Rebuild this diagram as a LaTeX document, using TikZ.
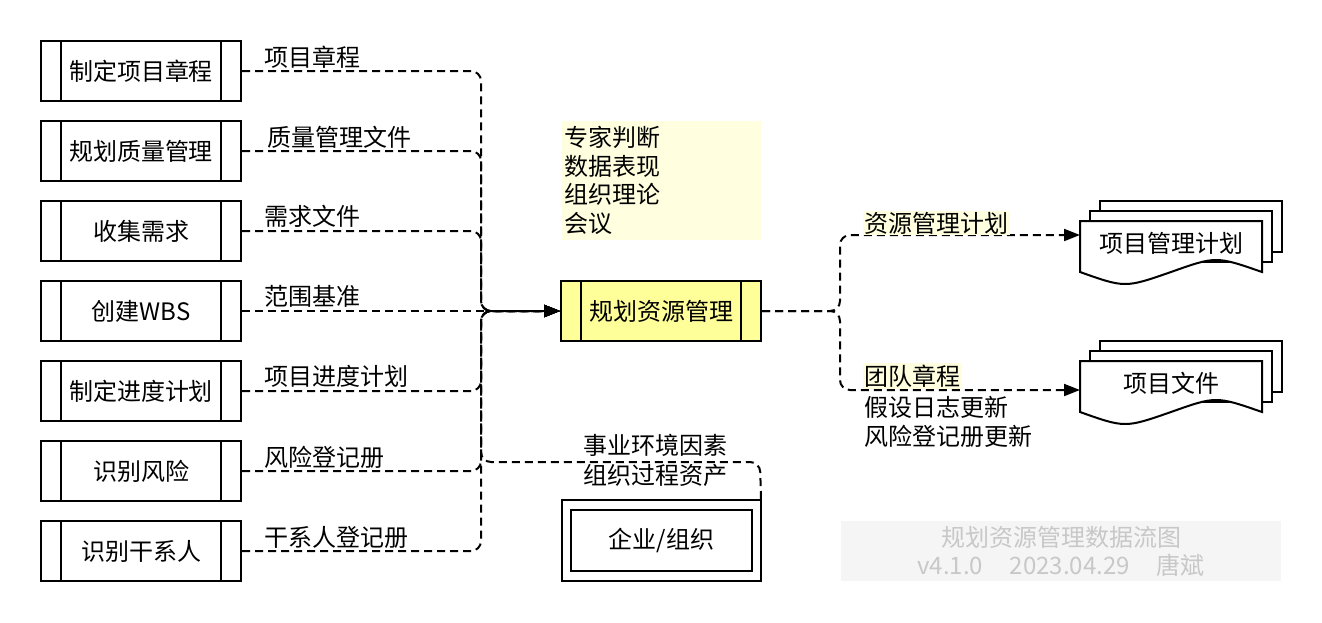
\documentclass[tikz,border=0pt]{standalone}
\usepackage{fontspec}
\setmainfont{Noto Sans CJK SC}
\usetikzlibrary{arrows.meta,positioning,calc}
\definecolor{rmproc}{RGB}{255,255,153}
\definecolor{rmnote}{RGB}{255,255,224}
\definecolor{rmmark}{RGB}{245,245,245}
\definecolor{rmmarktext}{RGB}{200,200,200}

\begin{document}
\begin{tikzpicture}[x=0.75pt,y=-0.75pt,>={Triangle[length=12pt,width=9pt]},
  font=\fontsize{18pt}{21.4pt}\selectfont,
  proc/.style={draw,line width=1.5pt,minimum width=150pt,minimum height=45pt,inner sep=0pt,
    path picture={
      \draw[line width=1.5pt] ([xshift=15pt]path picture bounding box.north west)--([xshift=15pt]path picture bounding box.south west);
      \draw[line width=1.5pt] ([xshift=-15pt]path picture bounding box.north east)--([xshift=-15pt]path picture bounding box.south east);}},
  flow/.style={line width=1.5pt,dash pattern=on 6pt off 3.75pt,rounded corners=7.5pt},
  lbl/.style={anchor=west,inner sep=1pt},
  page/.style={draw,line width=1.5pt,fill=white}]
\useasboundingbox (0,0) rectangle (1322,622);
% inputs
\node[proc] (charter) at (141,71) {制定项目章程};
\node[proc] (quality) at (141,151) {规划质量管理};
\node[proc] (reqs) at (141,231) {收集需求};
\node[proc] (wbs) at (141,311) {创建WBS};
\node[proc] (sched) at (141,391) {制定进度计划};
\node[proc] (risk) at (141,471) {识别风险};
\node[proc] (stake) at (141,551) {识别干系人};
\node[lbl] (charterlbl) at (263,57) {项目章程};
\node[lbl] (qualitylbl) at (266,137) {质量管理文件};
\node[lbl] (reqslbl) at (263,216) {需求文件};
\node[lbl] (wbslbl) at (263,296) {范围基准};
\node[lbl] (schedlbl) at (263,376) {项目进度计划};
\node[lbl] (risklbl) at (263,457) {风险登记册};
\node[lbl] (stakelbl) at (263,537) {干系人登记册};
% process
\node[proc,fill=rmproc] (plan) at (661,311) {规划资源管理};
\node[fill=rmnote,minimum width=149.25pt,minimum height=89.25pt,text width=146pt,align=left,inner sep=1.5pt] (tools) at (661.5,180.5) {专家判断\\数据表现\\组织理论\\会议};
\node[draw,line width=1.5pt,minimum width=149.25pt,minimum height=60.75pt,inner sep=0pt,
  path picture={\draw[line width=1.5pt] ([shift={(6.75pt,-7.5pt)}]path picture bounding box.north west) rectangle ([shift={(-6.75pt,7.5pt)}]path picture bounding box.south east);}] (org) at (661.5,540.5) {企业/组织};
\node[align=center,font=\fontsize{18pt}{22.5pt}\selectfont] (orglbl) at (655,460) {事业环境因素\\组织过程资产};
\draw[flow,->] (charter.east) -- (481,71) -- (481,311) -- (plan.west);
\draw[flow,->] (quality.east) -- (481,151) -- (481,311) -- (plan.west);
\draw[flow,->] (reqs.east) -- (481,231) -- (481,311) -- (plan.west);
\draw[flow,->] (wbs.east) -- (plan.west);
\draw[flow,->] (sched.east) -- (481,391) -- (481,311) -- (plan.west);
\draw[flow,->] (risk.east) -- (481,471) -- (481,311) -- (plan.west);
\draw[flow,->] (stake.east) -- (481,551) -- (481,311) -- (plan.west);
\draw[flow,->] ([xshift=-0.75pt]org.north east) -- (760,462) -- (481,462) -- (481,311) -- (plan.west);
% outputs
\draw[page] (1100,201) rectangle (1282,252);
\draw[page] (1090,211) rectangle (1272,262);
\draw[page] (1080,221) -- (1262,221) -- (1262,272) .. controls (1216,256) .. (1171,272) .. controls (1125,288) .. (1080,272) -- cycle;
\node (pmp) at (1171,243) {项目管理计划};
\coordinate (pmpin) at (1080,235);
\draw[page] (1100,341) rectangle (1282,392);
\draw[page] (1090,351) rectangle (1272,402);
\draw[page] (1080,361) -- (1262,361) -- (1262,412) .. controls (1216,396) .. (1171,412) .. controls (1125,428) .. (1080,412) -- cycle;
\node (pdoc) at (1171,383) {项目文件};
\coordinate (pdocin) at (1080,390);
\draw[flow,->] (plan.east) -- (840,311) -- (840,235) -- (pmpin);
\draw[flow,->] (plan.east) -- (840,311) -- (840,390) -- (pdocin);
\node[lbl,fill=rmnote] (rmplbl) at (863,223) {资源管理计划};
\node[lbl,fill=rmnote] (teamlbl) at (863,376) {团队章程};
\node[lbl,align=left,font=\fontsize{18pt}{21.75pt}\selectfont] (updlbl) at (863,421.5) {假设日志更新\\风险登记册更新};
% stamp
\node[fill=rmmark,minimum width=330pt,minimum height=45pt,text=rmmarktext,align=center,font=\fontsize{18pt}{21pt}\selectfont] (stamp) at (1061,551) {规划资源管理数据流图\\v4.1.0\hspace{20pt}2023.04.29\hspace{20pt}唐斌};
\end{tikzpicture}
\end{document}
